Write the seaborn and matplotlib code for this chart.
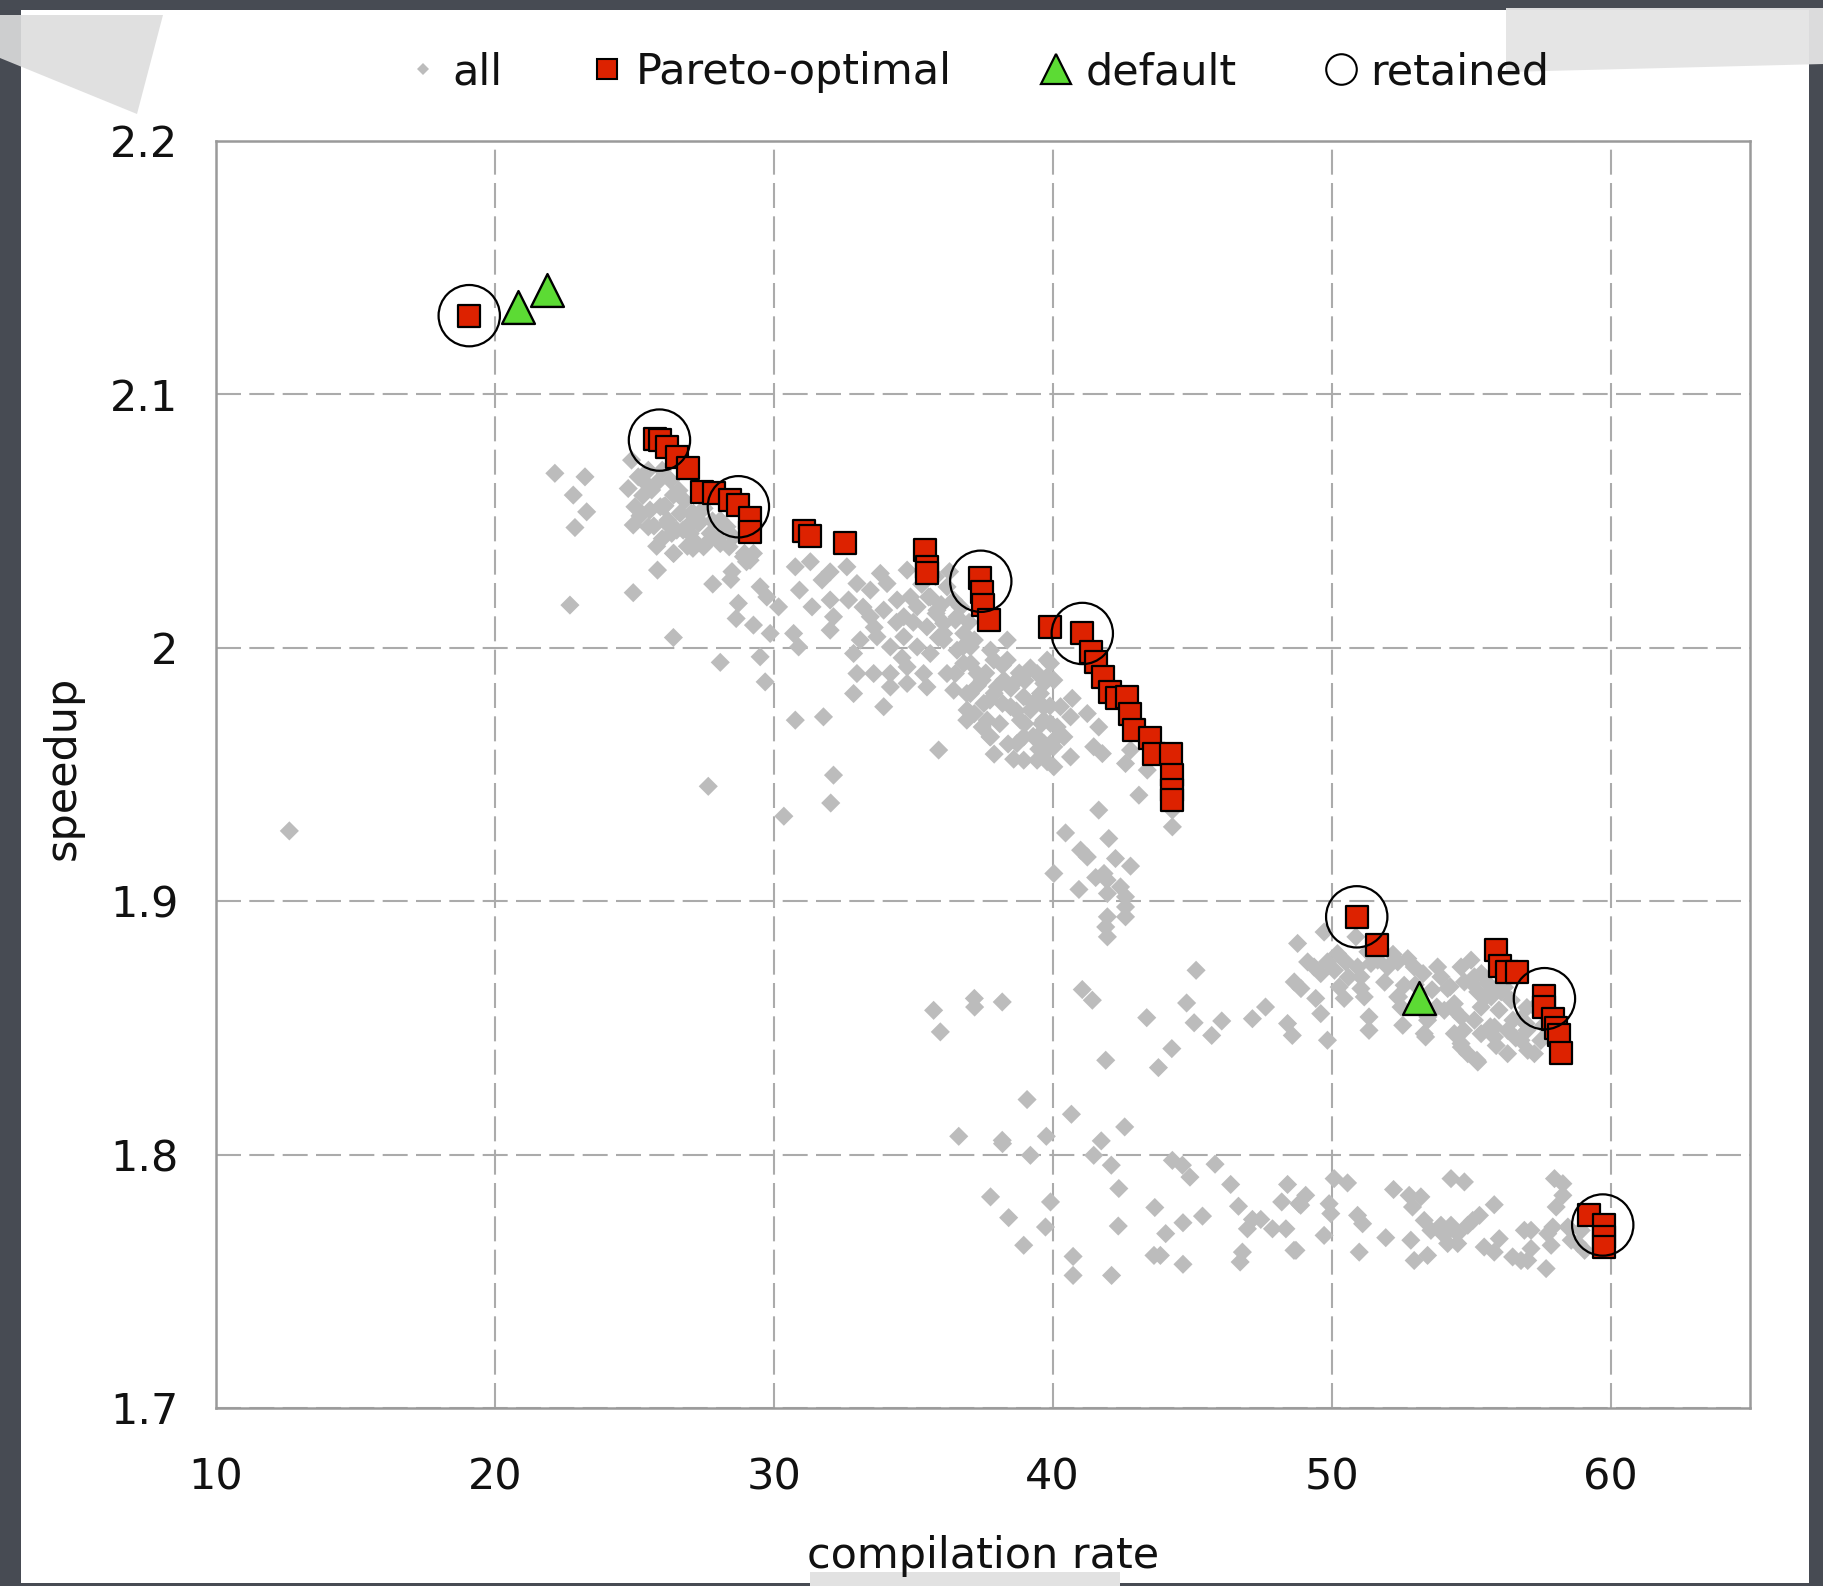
import numpy as np
import pandas as pd
import matplotlib
matplotlib.use('Agg')
import matplotlib.pyplot as plt
import seaborn as sns
from matplotlib.lines import Line2D
from matplotlib.patches import Polygon, Rectangle

# --- data ----------------------------------------------------------------
# all evaluated configurations (grey diamonds), (compilation rate, speedup)
all_points = [
    (12.63, 1.9277),
    # upper-left cloud
    (22.15, 2.0688), (23.23, 2.0674), (22.81, 2.0602), (23.29, 2.0536), (22.87, 2.0474),
    (24.90, 2.0740), (25.14, 2.0674), (24.78, 2.0628), (25.62, 2.0622), (25.02, 2.0556),
    (25.56, 2.0543), (24.96, 2.0484), (25.50, 2.0477), (26.04, 2.0556), (26.40, 2.0602),
    (26.64, 2.0530), (26.16, 2.0490), (26.52, 2.0464), (26.88, 2.0477), (27.12, 2.0530),
    (27.36, 2.0497), (27.12, 2.0424), (26.40, 2.0372), (27.48, 2.0398), (27.72, 2.0451),
    (28.08, 2.0411), (28.32, 2.0477), (28.08, 2.0503), (28.55, 2.0437), (28.91, 2.0359),
    (29.27, 2.0372), (29.15, 2.0345), (25.83, 2.0306), (24.96, 2.0217), (22.69, 2.0168),
    (26.40, 2.0040), (27.81, 2.0251), (28.46, 2.0269), (29.51, 2.0240), (29.75, 2.0200),
    (28.73, 2.0175), (28.65, 2.0115), (29.27, 2.0089), (29.87, 2.0056), (29.51, 1.9964),
    (28.08, 1.9942), (29.69, 1.9865), (30.17, 2.0161), (30.71, 2.0056), (30.89, 2.0003),
    (25.93, 2.0556), (26.20, 2.0503), (26.34, 2.0451), (26.75, 2.0464), (27.03, 2.0530),
    (27.30, 2.0490), (26.41, 2.0372), (27.10, 2.0392), (27.58, 2.0411), (27.99, 2.0430),
    (28.40, 2.0398), (28.95, 2.0372), (29.02, 2.0339), (25.30, 2.0600), (25.80, 2.0650),
    (26.00, 2.0700), (25.50, 2.0700), (26.30, 2.0660), (25.20, 2.0520), (25.70, 2.0480),
    (26.00, 2.0430), (26.80, 2.0580), (27.50, 2.0550),
    (25.40, 2.0650), (26.60, 2.0620), (27.00, 2.0450), (27.80, 2.0500), (26.10, 2.0560),
    (25.80, 2.0400), (26.90, 2.0400), (28.50, 2.0300),
    (27.65, 1.9453), (32.04, 1.9387), (30.36, 1.9335),
    # middle cloud
    (30.77, 2.0319), (31.31, 2.0339), (30.92, 2.0227), (31.37, 2.0161), (31.73, 2.0267),
    (32.02, 2.0299), (32.02, 2.0188), (32.14, 2.0122), (32.02, 2.0069), (32.62, 2.0319),
    (32.68, 2.0188), (32.98, 2.0253), (33.46, 2.0227), (33.46, 2.0122), (33.82, 2.0293),
    (34.06, 2.0253), (33.94, 2.0148), (34.42, 2.0188), (34.78, 2.0306), (34.90, 2.0200),
    (34.66, 2.0122), (35.14, 2.0161), (35.61, 2.0200), (35.85, 2.0148), (36.21, 2.0240),
    (36.45, 2.0188), (36.57, 2.0122), (36.09, 2.0096), (35.49, 2.0082), (36.81, 2.0056),
    (37.05, 2.0003), (36.57, 1.9990), (36.09, 2.0030), (35.61, 1.9977), (35.14, 2.0003),
    (34.66, 2.0043), (34.18, 2.0003), (33.70, 2.0043), (33.10, 2.0030), (32.86, 1.9977),
    (32.98, 1.9898), (33.58, 1.9898), (34.18, 1.9898), (34.78, 1.9924), (35.37, 1.9898),
    (35.49, 1.9845), (34.78, 1.9859), (34.18, 1.9845), (33.94, 1.9767), (32.86, 1.9819),
    (31.78, 1.9727), (30.77, 1.9714), (32.14, 1.9497), (35.91, 1.9596), (36.21, 1.9898),
    (36.45, 1.9832), (36.81, 1.9938), (37.29, 1.9898), (37.05, 1.9819), (36.93, 1.9754),
    (37.53, 1.9780), (37.65, 1.9714), (37.77, 1.9648), (37.89, 1.9951), (38.37, 1.9951),
    (38.25, 1.9872), (38.01, 1.9845), (38.72, 1.9872), (38.96, 1.9806), (38.49, 1.9767),
    (38.84, 1.9714), (39.20, 1.9754), (39.56, 1.9819), (39.80, 1.9885), (39.44, 1.9898),
    (39.68, 1.9714), (39.44, 1.9648), (38.96, 1.9648), (38.72, 1.9622), (38.96, 1.9556),
    (39.44, 1.9556), (39.68, 1.9582), (40.04, 1.9609), (40.04, 1.9530), (40.16, 1.9687),
    (39.92, 1.9938), (38.37, 2.0030), (37.77, 1.9990),
    (35.55, 2.0200), (35.82, 2.0135), (36.09, 2.0056), (36.51, 2.0109), (36.78, 2.0003),
    (37.19, 2.0030), (37.06, 1.9938), (36.51, 1.9898), (36.92, 1.9819), (37.47, 1.9872),
    (37.75, 1.9793), (37.19, 1.9740), (37.47, 1.9687), (37.75, 1.9648), (36.92, 1.9714),
    (37.30, 1.9850), (37.60, 1.9900), (37.90, 1.9820), (38.20, 1.9780), (38.50, 1.9840),
    (38.10, 1.9700), (38.40, 1.9620), (38.70, 1.9750), (39.00, 1.9700), (39.30, 1.9650),
    (39.00, 1.9870), (39.30, 1.9780), (39.60, 1.9700), (39.90, 1.9770), (38.20, 1.9930),
    (38.80, 1.9900), (39.20, 1.9920), (39.50, 1.9600), (38.60, 1.9560), (37.90, 1.9580),
    (35.30, 2.0250), (35.80, 2.0280), (36.00, 2.0170), (36.30, 2.0300), (35.00, 2.0100),
    (35.90, 2.0040), (36.70, 2.0160), (37.00, 2.0100), (34.40, 2.0100), (33.20, 2.0160),
    (33.60, 2.0080), (34.60, 1.9960),
    # tail around 40-45
    (39.80, 1.9951), (40.04, 1.9872), (40.70, 1.9800), (40.28, 1.9767), (41.24, 1.9740),
    (40.64, 1.9727), (41.65, 1.9687), (40.40, 1.9648), (41.47, 1.9609), (41.78, 1.9582),
    (40.64, 1.9569), (39.80, 1.9550), (42.61, 1.9543), (42.79, 1.9596), (43.39, 1.9517),
    (43.09, 1.9418), (44.29, 1.9359), (44.29, 1.9293), (41.65, 1.9359), (40.46, 1.9269),
    (42.01, 1.9247), (41.00, 1.9201), (41.24, 1.9174), (42.25, 1.9168), (42.79, 1.9138),
    (40.04, 1.9109), (41.54, 1.9093), (41.84, 1.9109), (41.95, 1.9083), (42.43, 1.9056),
    (40.94, 1.9046), (41.96, 1.9030), (42.61, 1.9017), (42.61, 1.8977), (41.96, 1.8938),
    (42.61, 1.8938), (41.90, 1.8898), (41.96, 1.8859), (39.68, 1.9859), (39.68, 1.9767),
    (39.92, 1.9701), (39.68, 1.9622), (40.04, 1.9635), (45.14, 1.8727),
    # right upper band
    (48.78, 1.8833), (49.73, 1.8878), (48.66, 1.8681), (48.90, 1.8655), (49.43, 1.8616),
    (49.37, 1.8740), (49.85, 1.8760), (50.21, 1.8793), (50.10, 1.8727), (50.27, 1.8661),
    (50.45, 1.8616), (50.87, 1.8859), (50.93, 1.8740), (51.05, 1.8701), (51.05, 1.8655),
    (51.17, 1.8622), (51.41, 1.8754), (51.65, 1.8767), (52.01, 1.8740), (52.37, 1.8760),
    (52.73, 1.8773), (52.96, 1.8740), (52.60, 1.8668), (52.37, 1.8622), (52.49, 1.8582),
    (51.34, 1.8543), (51.34, 1.8490), (52.55, 1.8510), (53.32, 1.8477), (53.44, 1.8530),
    (53.80, 1.8740), (53.92, 1.8701), (54.64, 1.8740), (55.00, 1.8767), (54.16, 1.8655),
    (54.76, 1.8681), (55.12, 1.8701), (55.24, 1.8642), (54.40, 1.8595), (54.04, 1.8569),
    (54.64, 1.8543), (55.12, 1.8530), (54.40, 1.8477), (54.64, 1.8438), (54.88, 1.8398),
    (55.24, 1.8365), (55.36, 1.8477), (55.84, 1.8503), (55.84, 1.8464), (56.31, 1.8490),
    (56.31, 1.8398), (56.79, 1.8451), (57.03, 1.8411), (57.27, 1.8398), (55.36, 1.8582),
    (55.72, 1.8622), (56.08, 1.8642), (56.44, 1.8609), (55.60, 1.8675), (56.79, 1.8536),
    (57.27, 1.8582), (49.61, 1.8556), (48.42, 1.8517), (48.59, 1.8470), (47.63, 1.8582),
    (49.85, 1.8451), (49.61, 1.8714), (49.14, 1.8760),
    (53.37, 1.8464), (53.45, 1.8543), (53.77, 1.8582), (52.40, 1.8622), (53.28, 1.8714),
    (54.25, 1.8662), (54.41, 1.8569), (54.73, 1.8490), (54.65, 1.8424), (55.21, 1.8372),
    (55.05, 1.8675), (55.85, 1.8649), (55.37, 1.8714), (55.69, 1.8504), (56.97, 1.8517),
    (55.50, 1.8620), (56.00, 1.8570), (56.50, 1.8530), (57.00, 1.8490), (56.20, 1.8660),
    (56.60, 1.8460), (57.50, 1.8450), (57.60, 1.8510), (55.90, 1.8430), (57.00, 1.8580),
    (50.50, 1.8760), (51.30, 1.8800), (51.90, 1.8680), (52.20, 1.8790), (50.60, 1.8700),
    (53.00, 1.8670), (53.60, 1.8650),
    # lower band, left part
    (35.73, 1.8569), (35.97, 1.8484), (37.19, 1.8616), (37.20, 1.8582), (38.19, 1.8602),
    (41.06, 1.8651), (41.42, 1.8609), (43.37, 1.8540), (41.90, 1.8372), (43.79, 1.8343),
    (44.27, 1.8418), (44.80, 1.8598), (45.07, 1.8520), (46.06, 1.8527), (45.70, 1.8470),
    (47.16, 1.8536), (39.08, 1.8217), (40.67, 1.8159), (42.58, 1.8109), (36.63, 1.8072),
    (38.19, 1.8056), (38.20, 1.8043), (39.77, 1.8072), (41.74, 1.8054), (39.20, 1.7997),
    (41.47, 1.7997), (42.10, 1.7958), (44.29, 1.7977), (44.65, 1.7958), (44.92, 1.7911),
    (45.82, 1.7962), (46.38, 1.7882), (46.66, 1.7796), (48.42, 1.7882), (48.21, 1.7813),
    (48.83, 1.7806), (37.77, 1.7833), (39.92, 1.7813), (42.37, 1.7866), (38.42, 1.7751),
    (39.74, 1.7714), (42.35, 1.7718), (43.66, 1.7791), (44.05, 1.7688), (44.67, 1.7731),
    (45.37, 1.7757), (46.98, 1.7707), (47.16, 1.7744), (47.46, 1.7744), (47.88, 1.7707),
    (48.36, 1.7707), (48.65, 1.7622), (38.96, 1.7642), (40.73, 1.7598), (40.73, 1.7523),
    (42.11, 1.7523), (43.63, 1.7602), (43.86, 1.7602), (44.67, 1.7567), (46.80, 1.7615),
    (46.72, 1.7576),
    # lower band, right part
    (50.09, 1.7905), (50.57, 1.7888), (49.07, 1.7839), (48.89, 1.7800), (49.91, 1.7806),
    (49.97, 1.7767), (50.93, 1.7760), (51.11, 1.7727), (49.73, 1.7681), (48.72, 1.7622),
    (50.99, 1.7615), (51.94, 1.7672), (52.22, 1.7862), (52.78, 1.7839), (53.20, 1.7833),
    (52.90, 1.7793), (52.96, 1.7582), (52.84, 1.7662), (53.32, 1.7740), (53.56, 1.7701),
    (53.92, 1.7721), (54.04, 1.7681), (54.28, 1.7721), (54.52, 1.7688), (54.16, 1.7649),
    (54.52, 1.7649), (54.88, 1.7721), (55.06, 1.7740), (55.30, 1.7760), (54.28, 1.7905),
    (54.76, 1.7892), (55.83, 1.7802), (55.47, 1.7635), (55.83, 1.7615), (56.01, 1.7668),
    (56.49, 1.7596), (56.79, 1.7582), (56.91, 1.7701), (57.15, 1.7701), (57.15, 1.7629),
    (57.03, 1.7582), (57.69, 1.7550), (57.75, 1.7688), (57.93, 1.7714), (57.87, 1.7642),
    (57.99, 1.7905), (58.29, 1.7885), (58.29, 1.7839), (58.05, 1.7793), (58.47, 1.7714),
    (58.59, 1.7662), (58.83, 1.7649), (59.07, 1.7622), (58.95, 1.7701), (53.44, 1.7602),
]

# Pareto-optimal configurations (red squares)
pareto_x = [19.08, 25.74, 25.92, 26.16, 26.52, 26.94, 27.42, 27.84, 28.43, 28.73, 29.15, 29.15,
            31.10, 31.30, 32.56, 35.43, 35.49, 35.50,
            37.41, 37.46, 37.50, 37.73,
            39.92, 41.06, 41.36, 41.54, 41.80, 42.05, 42.32, 42.68, 42.77, 42.91,
            43.48, 43.63, 44.23, 44.29, 44.29, 44.29,
            50.90, 51.62, 55.90, 56.03, 56.30, 56.66, 57.62, 57.62, 57.93, 58.05,
            58.15, 58.24, 59.24, 59.78, 59.78, 59.78]
pareto_y = [2.1310, 2.0825, 2.0819, 2.0793, 2.0753, 2.0707, 2.0615, 2.0609, 2.0582, 2.0562, 2.0510, 2.0457,
            2.0460, 2.0440, 2.0414, 2.0385, 2.0319, 2.0293,
            2.0273, 2.0220, 2.0168, 2.0109,
            2.0080, 2.0056, 1.9983, 1.9944, 1.9885, 1.9826, 1.9800, 1.9806, 1.9740, 1.9674,
            1.9642, 1.9582, 1.9582, 1.9497, 1.9438, 1.9398,
            1.8938, 1.8826, 1.8806, 1.8745, 1.8720, 1.8720, 1.8625, 1.8582, 1.8536, 1.8500,
            1.8470, 1.8402, 1.7760, 1.7722, 1.7675, 1.7635]

# default configurations (green triangles)
default_x = [20.84, 21.86, 53.13]
default_y = [2.1345, 2.1411, 1.8616]

# retained configurations (open circles)
retained_x = [19.08, 25.90, 28.73, 37.42, 41.06, 50.90, 57.63, 59.72]
retained_y = [2.1310, 2.0819, 2.0556, 2.0262, 2.0056, 1.8938, 1.8615, 1.7722]

x_ticks = [10, 20, 30, 40, 50, 60]
y_ticks = [1.7, 1.8, 1.9, 2.0, 2.1, 2.2]
legend_labels = ['all', 'Pareto-optimal', 'default', 'retained']

all_df = pd.DataFrame(all_points, columns=['rate', 'speedup'])

# --- style ----------------------------------------------------------------
sns.set_style('white')
plt.rcParams['font.family'] = ['DejaVu Sans']
FS = 31
GREY = '#bcbcbc'
RED = '#dd2200'
GREEN = '#5cdb34'

fig = plt.figure(figsize=(18.24, 15.86), dpi=100, facecolor='#474b53')

# white paper card + bits of tape
fig.patches.append(Rectangle((0.0115, 0.002), 0.9803, 0.9917, transform=fig.transFigure,
                             facecolor='white', edgecolor='none', zorder=-2))
fig.patches.append(Polygon([(0 / 1824, 1 - 15 / 1586), (163 / 1824, 1 - 15 / 1586),
                            (137 / 1824, 1 - 114 / 1586), (0 / 1824, 1 - 58 / 1586)],
                           closed=True, transform=fig.transFigure,
                           facecolor='#dddddd', edgecolor='none', alpha=0.9, zorder=-1))
fig.patches.append(Polygon([(1506 / 1824, 1 - 8 / 1586), (1824 / 1824, 1 - 8 / 1586),
                            (1824 / 1824, 1 - 64 / 1586), (1506 / 1824, 1 - 72 / 1586)],
                           closed=True, transform=fig.transFigure,
                           facecolor='#e4e4e4', edgecolor='none', alpha=0.95, zorder=-1))
fig.patches.append(Rectangle((810 / 1824, 0), 310 / 1824, 14 / 1586, transform=fig.transFigure,
                             facecolor='#e2e2e2', edgecolor='none', zorder=-1))

ax = fig.add_axes([0.11842, 0.11224, 0.84101, 0.79899])
ax.set_facecolor('white')

sns.scatterplot(data=all_df, x='rate', y='speedup', ax=ax, marker='D', s=95,
                color=GREY, edgecolor='none', linewidth=0, zorder=2)
sns.scatterplot(x=pareto_x, y=pareto_y, ax=ax, marker='s', s=250, color=RED,
                edgecolor='black', linewidth=1.6, zorder=3)
sns.scatterplot(x=default_x, y=default_y, ax=ax, marker='^', s=560, color=GREEN,
                edgecolor='black', linewidth=1.7, zorder=4)
sns.scatterplot(x=retained_x, y=retained_y, ax=ax, marker='o', s=1950, facecolor='none',
                edgecolor='black', linewidth=1.6, zorder=5)

ax.set_xlim(10, 65)
ax.set_ylim(1.7, 2.2)
ax.set_xticks(x_ticks)
ax.set_yticks(y_ticks)
ax.set_yticklabels([f'{v:g}' for v in y_ticks])
ax.tick_params(axis='both', length=0, labelsize=FS, labelcolor='#111111')
ax.tick_params(axis='x', pad=35)
ax.tick_params(axis='y', pad=27)

ax.grid(True, color='#ababab', linestyle=(0, (12, 4)), linewidth=1.5)
ax.set_axisbelow(True)
for sp in ax.spines.values():
    sp.set_color('#9a9a9a')
    sp.set_linewidth(1.8)

ax.set_xlabel('compilation rate', fontsize=FS, color='#111111')
ax.set_ylabel('speedup', fontsize=FS, color='#111111')
ax.xaxis.set_label_coords(0.5, -0.1)
ax.yaxis.set_label_coords(-0.086, 0.505)

handles = [
    Line2D([], [], linestyle='none', marker='D', markersize=6, color=GREY, markeredgewidth=0),
    Line2D([], [], linestyle='none', marker='s', markersize=14, markerfacecolor=RED,
           markeredgecolor='black', markeredgewidth=1.5),
    Line2D([], [], linestyle='none', marker='^', markersize=21, markerfacecolor=GREEN,
           markeredgecolor='black', markeredgewidth=1.6),
    Line2D([], [], linestyle='none', marker='o', markersize=22, markerfacecolor='none',
           markeredgecolor='black', markeredgewidth=1.5),
]
fig.legend(handles, legend_labels, loc='center left', bbox_to_anchor=(0.2249, 0.9546),
           bbox_transform=fig.transFigure, ncol=4, frameon=False, fontsize=FS,
           handlelength=0.6, handletextpad=0.38, columnspacing=2.12,
           borderpad=0, borderaxespad=0, labelcolor='#111111')

fig.savefig('out.png', dpi=100, facecolor=fig.get_facecolor())
